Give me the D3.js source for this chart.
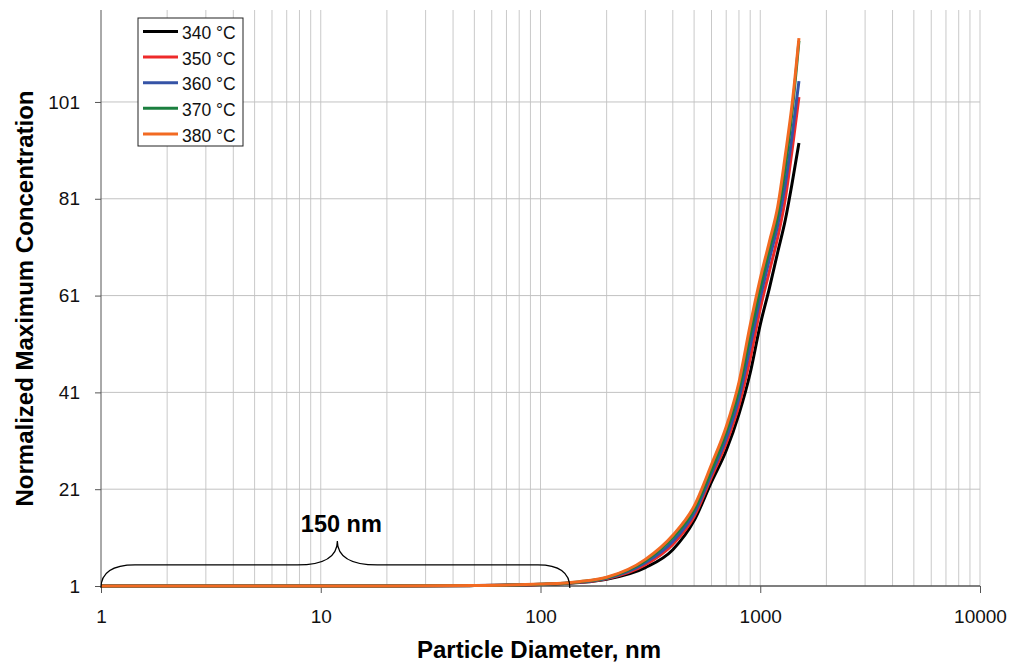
<!DOCTYPE html>
<html>
<head>
<meta charset="utf-8">
<script src="https://cdn.jsdelivr.net/npm/d3@7"></script>
<style>
  body { margin: 0; background: #fff; }
  text { font-family: Arial, "Liberation Sans", sans-serif; }
</style>
</head>
<body>
<div id="chart"></div>
<script>
let width = 1011,
height = 664;

// particle diameters, nm
let diam = [1, 2, 5, 10, 20, 50, 100, 150, 200, 300, 400, 500, 600, 700, 800, 900, 1000, 1100, 1200, 1300, 1400, 1500];

// normalized max concentration per temperature
let c340 = [1, 1, 1, 1, 1.02, 1.08, 1.3, 1.7, 2.4, 4.8, 8.5, 14.5, 22.5, 29, 36.5, 45, 55, 62.5, 69.9, 76.6, 84.5, 92.5];
let c350 = [1, 1, 1, 1, 1.02, 1.1, 1.32, 1.75, 2.5, 5.4, 9.6, 15.3, 23.5, 30.5, 38.3, 48, 58.3, 66, 73, 81, 91.5, 102];
let c360 = [1, 1, 1, 1, 1.02, 1.1, 1.35, 1.8, 2.6, 5.8, 10.2, 16, 24.2, 31.5, 39.8, 50.5, 60.5, 68.5, 75.5, 84, 94.5, 105.3];
let c370 = [1, 1, 1, 1, 1.02, 1.1, 1.37, 1.85, 2.7, 6.2, 11, 16.8, 25, 32.8, 41.5, 52.8, 62.5, 70.5, 77.5, 87.5, 99.5, 113.6];
let c380 = [1, 1, 1, 1, 1.02, 1.1, 1.4, 1.9, 2.8, 6.5, 11.5, 17.5, 26.1, 33.9, 43.1, 54.9, 64.5, 72.1, 79.3, 90, 101, 114.2];

let seriesNames = ["340 °C", "350 °C", "360 °C", "370 °C", "380 °C"];
let seriesVals = [c340, c350, c360, c370, c380];
let colors = ["#000000", "#ee2a2a", "#3553a6", "#1b7f3f", "#f26a22"];

let yTicks = [1, 21, 41, 61, 81, 101];
let xTicks = [1, 10, 100, 1000, 10000];

// brace annotation (nm range and label)
let braceFrom = 1, braceTo = 136, braceMid = 11.9;
let braceLabel = "150 nm";

let margin = {left: 101, right: 31, top: 10, bottom: 78};
let fontFam = "Arial, 'Liberation Sans', sans-serif";

let svg = d3.select("#chart")
    .append("svg")
    .attr("width", width)
    .attr("height", height);

let x = d3.scaleLog()
    .domain([1, 10000])
    .range([margin.left, width - margin.right]);

let y = d3.scaleLinear()
    .domain([1, 120])
    .range([height - margin.bottom, margin.top]);

//gridlines
let minor = [];
for (let d = 1; d < 10000; d *= 10) {
    for (let k = 2; k <= 10; k++) minor.push(d * k);
}
svg.append("g")
    .selectAll("line")
    .data(minor)
    .enter()
    .append("line")
    .attr("x1", d => x(d)).attr("x2", d => x(d))
    .attr("y1", y(1)).attr("y2", y(120))
    .style("stroke", "#c9c9c9")
    .style("stroke-width", 1);

svg.append("g")
    .selectAll("line")
    .data(yTicks.slice(1))
    .enter()
    .append("line")
    .attr("x1", x(1)).attr("x2", x(10000))
    .attr("y1", d => y(d)).attr("y2", d => y(d))
    .style("stroke", "#c2c2c2")
    .style("stroke-width", 1);

//axes
let yAxis = d3.axisLeft(y).tickValues(yTicks).tickSize(6).tickPadding(15);
let gy = svg.append("g")
    .attr("transform", "translate(" + x(1) + ",0)")
    .call(yAxis);
gy.select(".domain").attr("d", "M0," + y(120) + "V" + y(1)).style("stroke", "#555");
gy.selectAll(".tick line").style("stroke", "#555");
gy.selectAll("text").style("font-size", "19px").style("fill", "#111").style("font-family", fontFam);

let xAxis = d3.axisBottom(x).tickValues(xTicks).tickFormat(d3.format("d")).tickSize(7).tickPadding(17);
let gx = svg.append("g")
    .attr("transform", "translate(0," + y(1) + ")")
    .call(xAxis);
gx.select(".domain").attr("d", "M" + x(1) + ",0H" + x(10000)).style("stroke", "#555").style("stroke-width", 1.5);
gx.selectAll(".tick line").style("stroke", "#555");
gx.selectAll("text").style("font-size", "19px").style("fill", "#111").style("font-family", fontFam);

//curves
let line = d3.line()
    .x(d => x(d[0]))
    .y(d => y(d[1]))
    .curve(d3.curveMonotoneX);

for (let i = 0; i < seriesVals.length; i++) {
    let pts = diam.map((d, j) => [d, seriesVals[i][j]]);
    svg.append("path")
        .datum(pts)
        .attr("d", line)
        .style("fill", "none")
        .style("stroke", colors[i])
        .style("stroke-width", 3);
}

//brace
let bx0 = x(braceFrom), bx1 = x(braceTo), bm = x(braceMid);
let yb = y(1) + 2, yf = y(5.35), yp = y(10.3);
let bp = "M" + bx0 + "," + yb +
    " Q" + bx0 + "," + yf + " " + (bx0 + 34) + "," + yf +
    " L" + (bm - 40) + "," + yf +
    " Q" + bm + "," + yf + " " + bm + "," + yp +
    " Q" + bm + "," + yf + " " + (bm + 40) + "," + yf +
    " L" + (bx1 - 32) + "," + yf +
    " Q" + bx1 + "," + yf + " " + bx1 + "," + yb;
svg.append("path")
    .attr("d", bp)
    .style("fill", "none")
    .style("stroke", "#000")
    .style("stroke-width", 1.2);

svg.append("text")
    .attr("x", bm + 4)
    .attr("y", y(12.2))
    .attr("text-anchor", "middle")
    .style("font-size", "23.5px")
    .style("font-weight", "bold")
    .text(braceLabel);

//axis titles
svg.append("text")
    .attr("x", 539)
    .attr("y", 658)
    .attr("text-anchor", "middle")
    .style("font-size", "24px")
    .style("font-weight", "bold")
    .text("Particle Diameter, nm");

svg.append("text")
    .attr("transform", "translate(33," + 298.5 + ") rotate(-90)")
    .attr("text-anchor", "middle")
    .style("font-size", "24px")
    .style("font-weight", "bold")
    .text("Normalized Maximum Concentration");

//legend
let legend = svg.append("g")
    .attr("transform", "translate(138,18)");
legend.append("rect")
    .attr("width", 105)
    .attr("height", 128)
    .style("fill", "#fff")
    .style("stroke", "#222")
    .style("stroke-width", 1);
seriesNames.forEach(function(name, i) {
    let ly = 13.5 + i * 25.6;
    legend.append("line")
        .attr("x1", 5).attr("x2", 40)
        .attr("y1", ly).attr("y2", ly)
        .style("stroke", colors[i])
        .style("stroke-width", 3);
    legend.append("text")
        .attr("x", 44)
        .attr("y", ly + 7.6)
        .style("font-size", "17.5px")
        .style("fill", "#111")
        .text(name);
});
</script>
</body>
</html>
